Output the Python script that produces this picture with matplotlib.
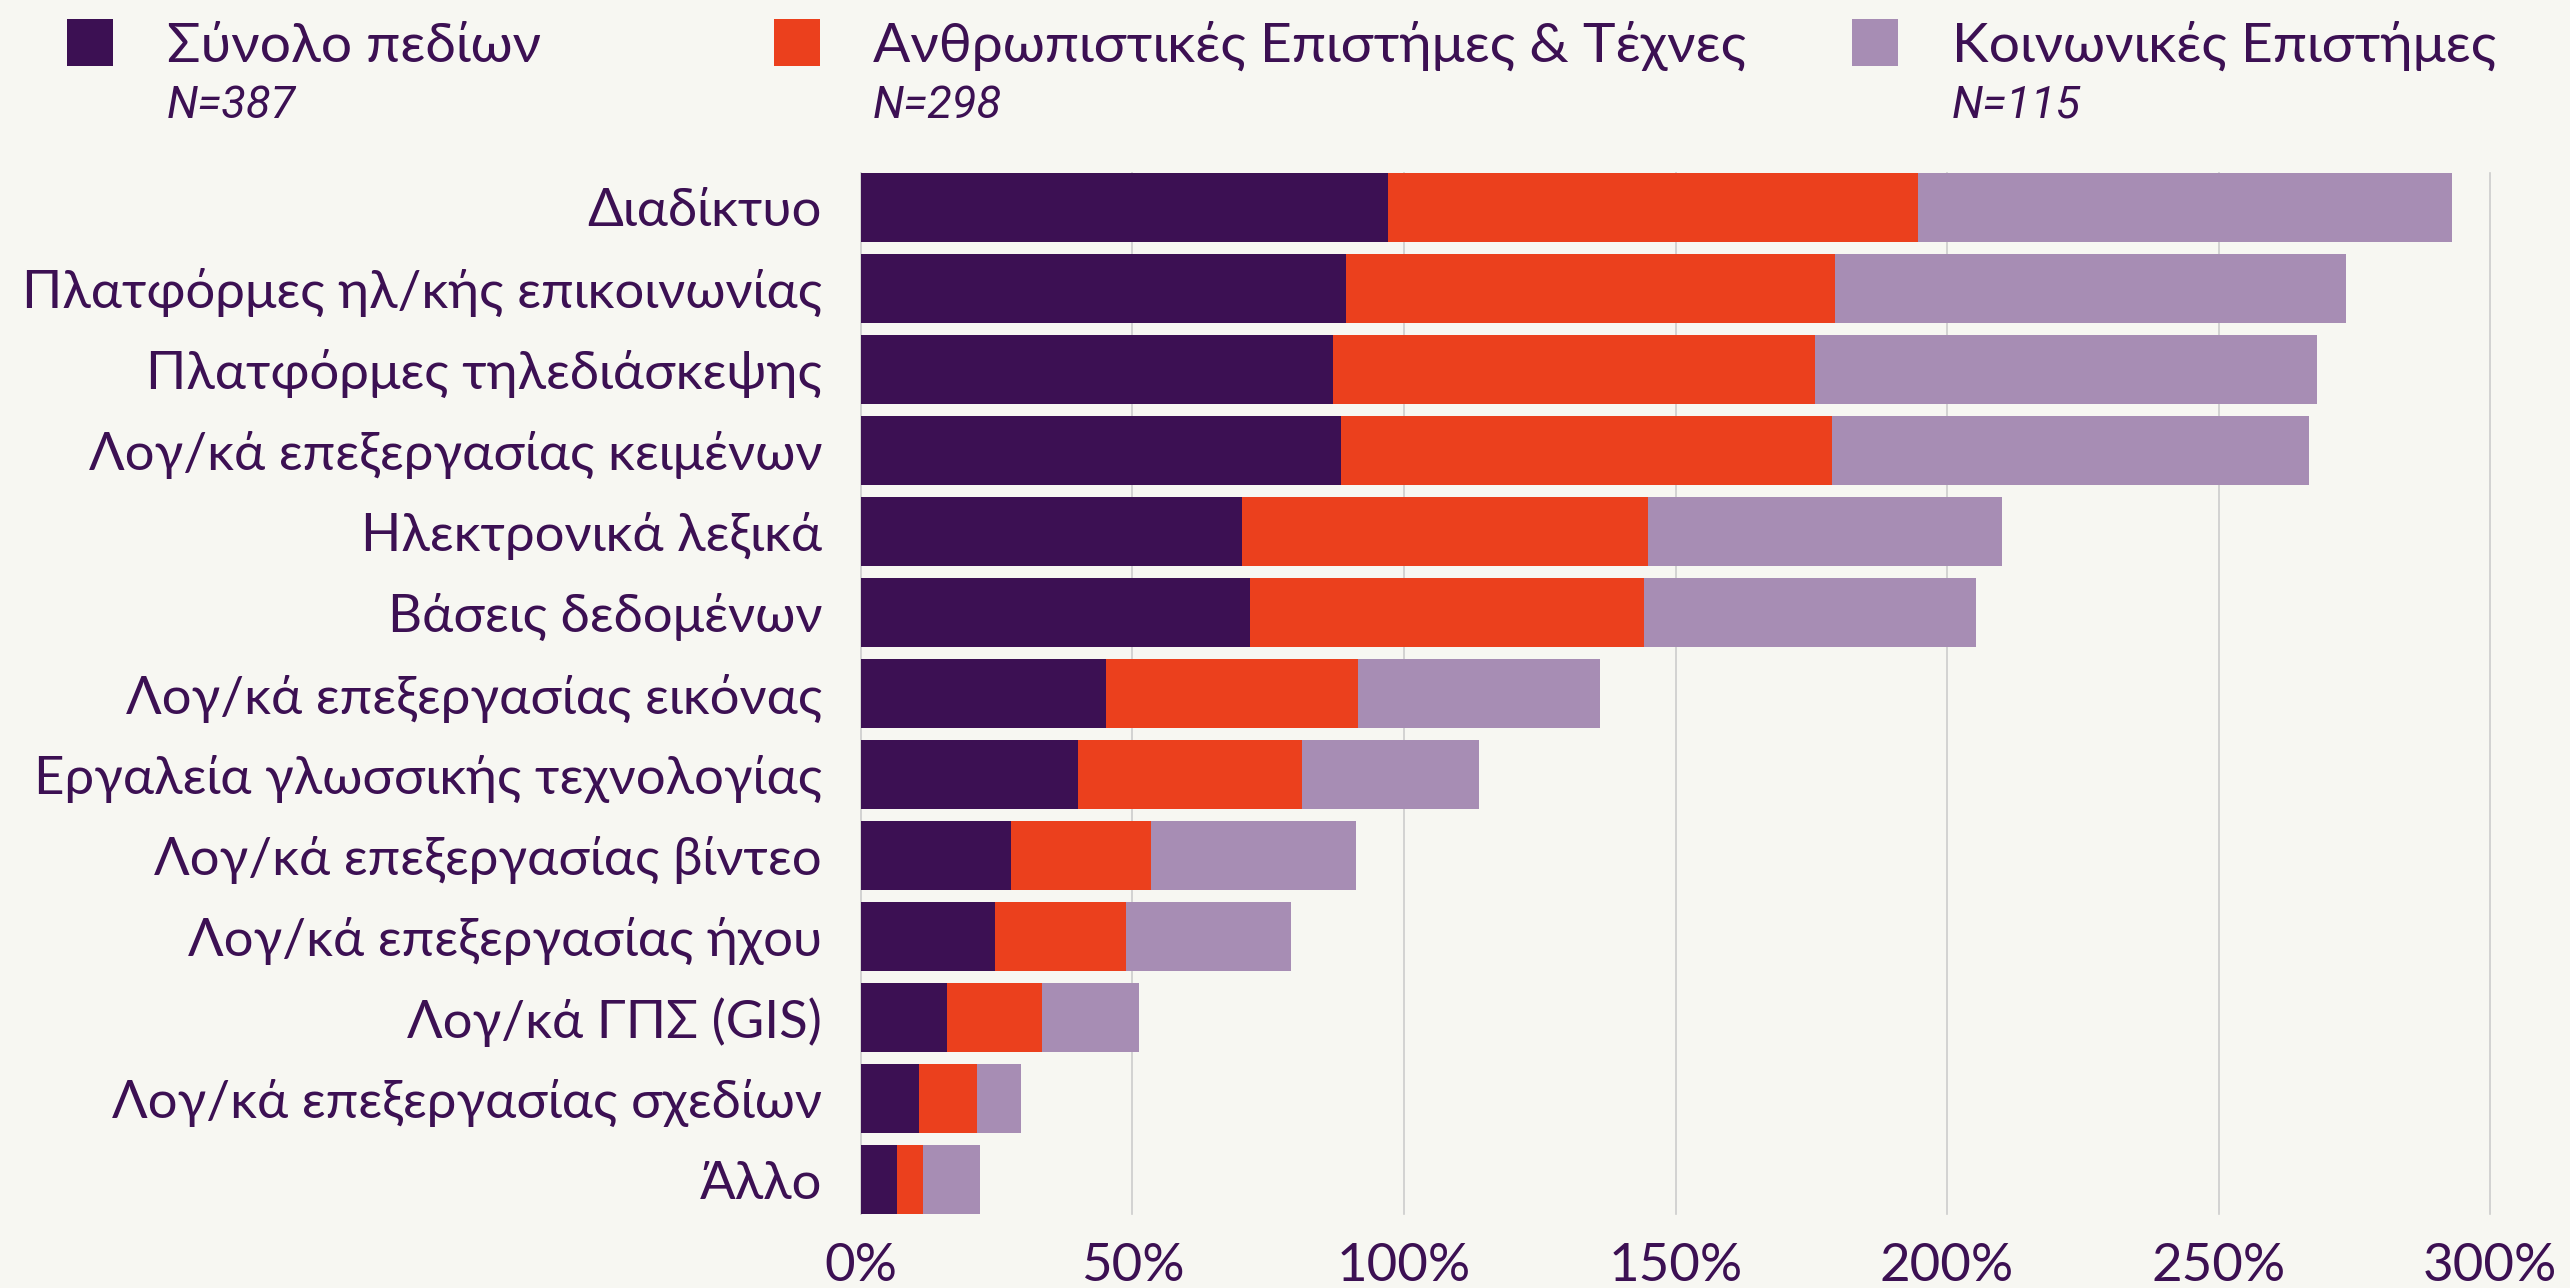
import matplotlib
matplotlib.use("Agg")
import matplotlib.pyplot as plt
from matplotlib.patches import Rectangle
from matplotlib.ticker import FuncFormatter

plt.rcParams['font.family'] = ['Lato', 'Noto Sans', 'DejaVu Sans']

categories = [
    "Διαδίκτυο",
    "Πλατφόρμες ηλ/κής επικοινωνίας",
    "Πλατφόρμες τηλεδιάσκεψης",
    "Λογ/κά επεξεργασίας κειμένων",
    "Ηλεκτρονικά λεξικά",
    "Βάσεις δεδομένων",
    "Λογ/κά επεξεργασίας εικόνας",
    "Εργαλεία γλωσσικής τεχνολογίας",
    "Λογ/κά επεξεργασίας βίντεο",
    "Λογ/κά επεξεργασίας ήχου",
    "Λογ/κά ΓΠΣ (GIS)",
    "Λογ/κά επεξεργασίας σχεδίων",
    "Άλλο",
]
series_names = ["Σύνολο πεδίων", "Ανθρωπιστικές Επιστήμες & Τέχνες", "Κοινωνικές Επιστήμες"]
series_n = ["N=387", "N=298", "N=115"]

total = [97.0, 89.4, 86.9, 88.4, 70.2, 71.7, 45.2, 39.9, 27.7, 24.6, 15.9, 10.7, 6.6]
humanities = [97.7, 90.0, 88.8, 90.4, 74.7, 72.5, 46.3, 41.3, 25.8, 24.2, 17.5, 10.7, 4.8]
social = [98.3, 94.0, 92.5, 87.8, 65.3, 61.1, 44.6, 32.6, 37.6, 30.4, 17.8, 8.0, 10.5]

x_ticks = [0, 50, 100, 150, 200, 250, 300]

colors = ["#3C1053", "#EB401D", "#A78DB4"]
text_color = "#3C1053"
bg = "#F7F7F2"

fig = plt.figure(figsize=(25.7, 12.88), dpi=100, facecolor=bg)
ax = fig.add_axes([0.3350, 0.05745, 0.6339, 0.8083], facecolor=bg)

y = range(len(categories))
left = [0.0] * len(categories)
for vals, col in zip([total, humanities, social], colors):
    ax.barh(y, vals, left=left, height=0.85, color=col, linewidth=0)
    left = [a + b for a, b in zip(left, vals)]

ax.set_xlim(0, 300)
ax.set_ylim(len(categories) - 1 + 0.425, -0.425)
ax.set_xticks(x_ticks)
ax.xaxis.set_major_formatter(FuncFormatter(lambda v, p: f"{int(v)}%"))
ax.set_yticks(list(y))
ax.set_yticklabels(categories)

ax.set_axisbelow(True)
ax.xaxis.grid(True, color="#CCCCCC", linewidth=1.2)
for g in ax.xaxis.get_gridlines():
    g.set_clip_on(False)
for s in ax.spines.values():
    s.set_visible(False)

ax.tick_params(axis="y", length=0, pad=28, labelsize=38, labelcolor=text_color)
ax.tick_params(axis="x", length=0, pad=21, labelsize=38, labelcolor=text_color)

# legend across the top
sq_x = [67, 774, 1852]
txt_x = [167, 873, 1952]
W, H = 2570, 1288
for i in range(3):
    fig.patches.append(Rectangle((sq_x[i] / W, 1 - 66 / H), 46 / W, 47 / H,
                                 transform=fig.transFigure, color=colors[i], linewidth=0))
    fig.text(txt_x[i] / W, 1 - 62 / H, series_names[i], fontsize=39.8, color=text_color,
             ha="left", va="baseline")
    fig.text(txt_x[i] / W, 1 - 118 / H, series_n[i], fontsize=32.5, style="italic",
             family=["Roboto", "DejaVu Sans"], color=text_color, ha="left", va="baseline")

fig.savefig("out.png", dpi=100, facecolor=bg)
